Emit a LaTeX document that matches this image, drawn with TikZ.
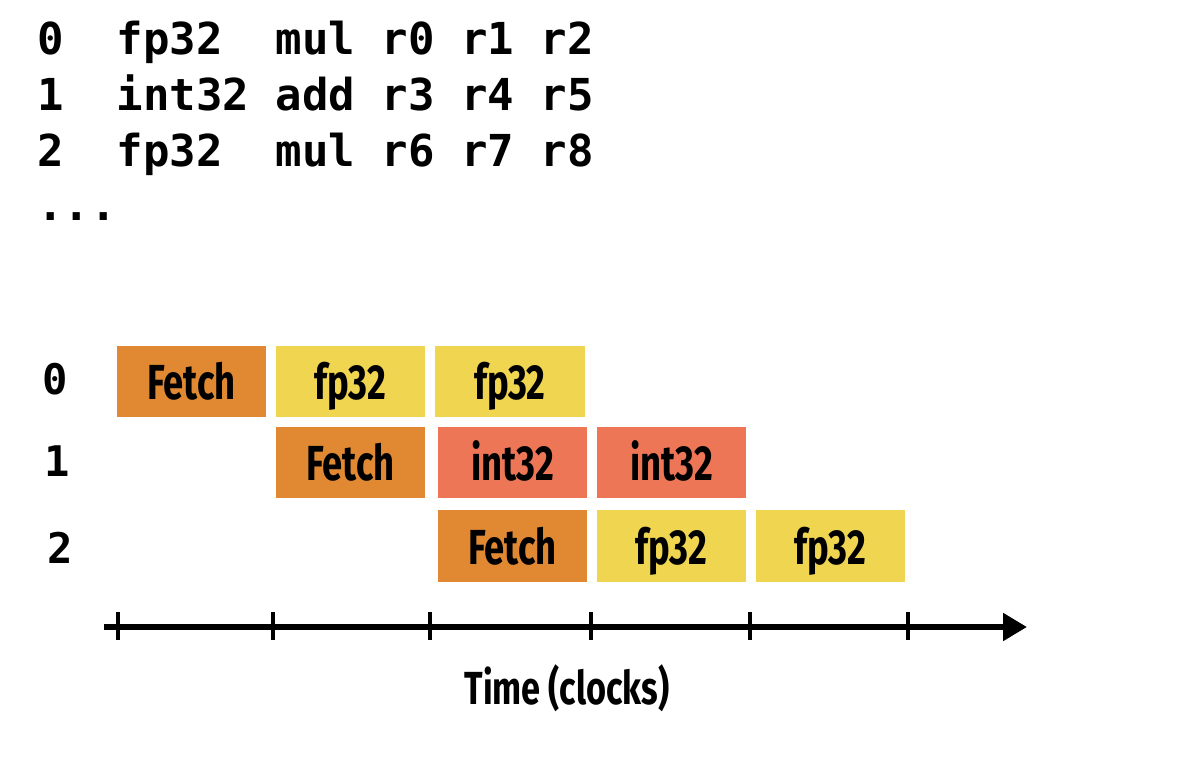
\documentclass[tikz,border=0pt]{standalone}
\usepackage{fontspec}
\usetikzlibrary{arrows.meta}
\newfontfamily\codefont{DejaVu Sans Mono}[BoldFont={DejaVu Sans Mono Bold}]
\newfontfamily\labelfont{Fira Sans}[UprightFont={* Bold}, FakeStretch=0.74]
\definecolor{fetchorange}{RGB}{224,137,50}
\definecolor{fpyellow}{RGB}{240,213,80}
\definecolor{intsalmon}{RGB}{236,118,86}
\begin{document}
\begin{tikzpicture}[x=0.025cm, y=-0.025cm]
	\tikzstyle{code_line} = [anchor=base west, inner sep=0pt, font=\codefont\bfseries\fontsize{31.3}{31}\selectfont]
	\tikzstyle{stage_box} = [rectangle, minimum width=3.725cm, minimum height=1.775cm, inner sep=0pt, text height=26pt, text depth=0pt, font=\labelfont\fontsize{35}{35}\selectfont]
	\tikzstyle{fetch} = [stage_box, fill=fetchorange]
	\tikzstyle{fp} = [stage_box, fill=fpyellow]
	\tikzstyle{int} = [stage_box, fill=intsalmon]
	\tikzstyle{row_label} = [anchor=base, inner sep=0pt, font=\codefont\bfseries\fontsize{30}{30}\selectfont]
	\useasboundingbox (0,0) rectangle (1192,768);

	% Instruction stream
	\node (L0) [code_line] at (37,55) {0~~fp32~~mul r0 r1 r2};
	\node (L1) [code_line] at (37,111) {1~~int32 add r3 r4 r5};
	\node (L2) [code_line] at (37,167) {2~~fp32~~mul r6 r7 r8};
	\node (L3) [code_line] at (37,221) {...};

	% Row labels
	\node (R0) [row_label] at (55,394) {0};
	\node (R1) [row_label] at (57,476) {1};
	\node (R2) [row_label] at (60,563) {2};

	% Instruction 0
	\node (F0) [fetch] at (191.5,381.5) {Fetch};
	\node (A0) [fp] at (350.5,381.5) {fp32};
	\node (B0) [fp] at (510,381.5) {fp32};
	% Instruction 1
	\node (F1) [fetch] at (350.5,462.5) {Fetch};
	\node (A1) [int] at (512.5,462.5) {int32};
	\node (B1) [int] at (671.5,462.5) {int32};
	% Instruction 2
	\node (F2) [fetch] at (512.5,546) {Fetch};
	\node (A2) [fp] at (671.5,546) {fp32};
	\node (B2) [fp] at (830.5,546) {fp32};

	% Time axis
	\coordinate (T_start) at (104,627);
	\coordinate (T_end) at (1027,627);
	\draw[line width=4pt, -{Triangle[length=17pt, width=19pt]}] (T_start) -- (T_end);
	\foreach \x in {118,273,430,591,750,908}
	\draw[line width=3.2pt] (\x,612) -- (\x,640);
	\node (T) [font=\labelfont\fontsize{33}{33}\selectfont] at (567,688) {Time (clocks)};
\end{tikzpicture}
\end{document}
